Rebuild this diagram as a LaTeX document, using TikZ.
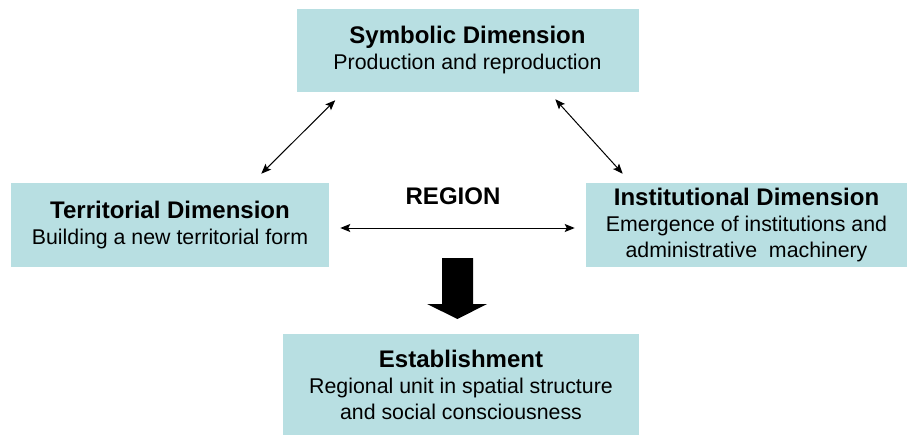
\documentclass[tikz,border=0pt]{standalone}
\usepackage{fontspec}
\setmainfont{Liberation Sans}
\usetikzlibrary{arrows.meta,positioning}
\definecolor{boxteal}{RGB}{184,223,226}
\newcommand{\dimhead}[1]{{\fontsize{18}{19.5}\selectfont\bfseries #1}}

\begin{document}
\begin{tikzpicture}
[x=0.75pt,y=-0.75pt,>={Stealth[length=7.5pt,width=6pt,inset=1.5pt]},
dimbox/.style = {fill = boxteal, inner sep = 0pt, align = center, font = \fontsize{16}{19.5}\selectfont},
link/.style = {<->, line width = 0.75pt},]
\useasboundingbox (0,0) rectangle (908,435);
\node (S) at (467.5,50.5)[dimbox,minimum width=256.5pt,minimum height=62.25pt] {\dimhead{Symbolic Dimension}\\Production and reproduction};
\node (T) at (170,225)[dimbox,minimum width=238.5pt,minimum height=63pt] {\dimhead{Territorial Dimension}\\Building a new territorial form};
\node (I) at (746.5,225)[dimbox,minimum width=240.75pt,minimum height=63pt] {\dimhead{Institutional Dimension}\\Emergence of institutions and\\administrative\ \ machinery};
\node (E) at (461,384.5)[dimbox,minimum width=267pt,minimum height=75.75pt] {\dimhead{Establishment}\\Regional unit in spatial structure\\and social consciousness};
\node (R) at (453,196) {\dimhead{REGION}};
\draw[link] ([shift={(-68,-9)}]T.north east) -- ([shift={(39,8)}]S.south west);
\draw[link] ([shift={(-83.5,7)}]S.south east) -- ([shift={(37,-9)}]I.north west);
\draw[link] ([shift={(11,3)}]T.east) -- ([shift={(-11,3)}]I.west);
% big arrow down to the establishment
\fill (442,258) -- (473,258) -- (473,304) -- (487,304) -- (457.5,319) -- (427,304) -- (442,304) -- cycle;
\end{tikzpicture}
\end{document}
